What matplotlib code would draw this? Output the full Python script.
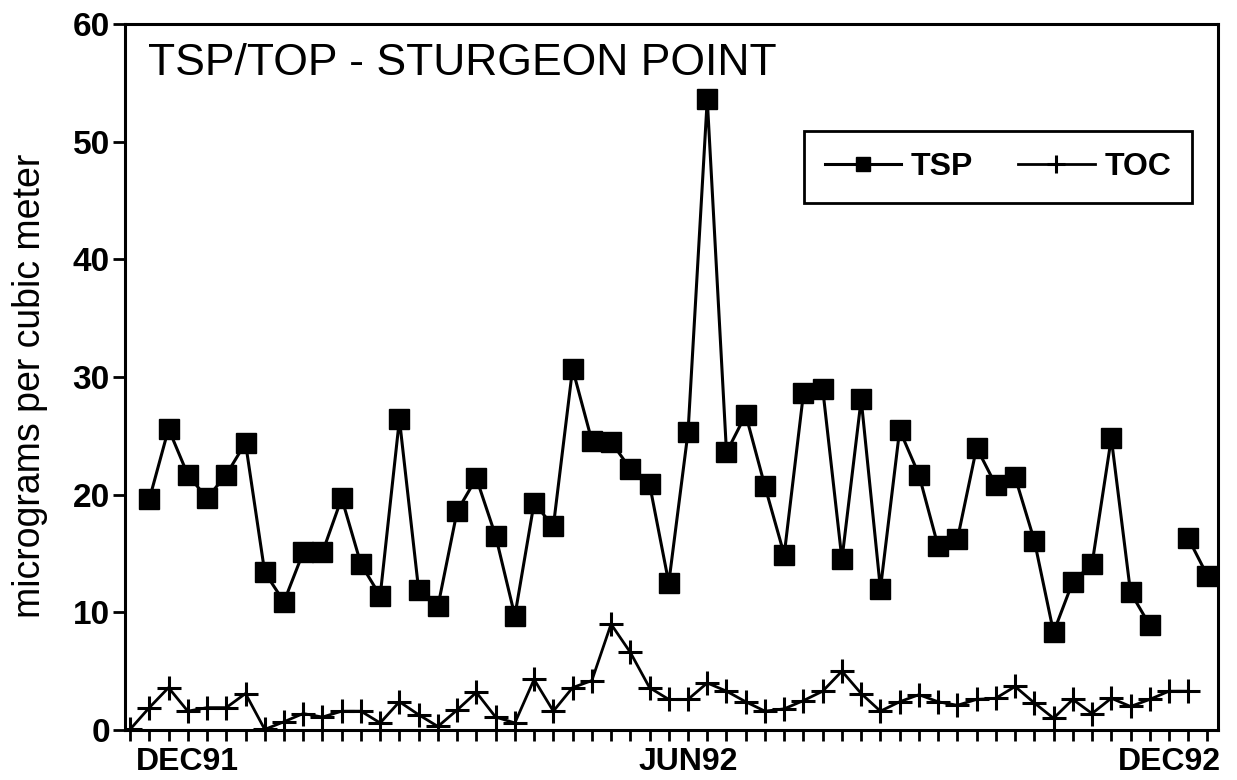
import numpy as np
import matplotlib
matplotlib.use("Agg")
import matplotlib.pyplot as plt

plt.rcParams['font.family'] = ['Liberation Sans', 'DejaVu Sans']

# sample index (one tick per sample)
n_ticks = 57
tick_pos = list(range(n_ticks))

# TSP, micrograms per cubic meter (nan = no sample)
tsp = [np.nan, 19.6, 25.6, 21.7, 19.7, 21.7, 24.4, 13.4, 10.9, 15.1,
       15.1, 19.7, 14.1, 11.4, 26.4, 11.9, 10.5, 18.6, 21.4, 16.5,
       9.7, 19.3, 17.3, 30.7, 24.6, 24.5, 22.2, 20.9, 12.5, 25.3,
       53.6, 23.6, 26.8, 20.7, 14.9, 28.6, 29.0, 14.5, 28.1, 12.0,
       25.5, 21.7, 15.6, 16.2, 24.0, 20.8, 21.5, 16.1, 8.3, 12.6,
       14.1, 24.8, 11.7, 8.9, np.nan, 16.3, 13.1]

# TOC, micrograms per cubic meter
toc = [0.05, 1.9, 3.6, 1.6, 1.9, 1.9, 3.1, 0.05, 0.7, 1.4,
       1.1, 1.6, 1.6, 0.6, 2.4, 1.3, 0.3, 1.7, 3.2, 1.1,
       0.6, 4.3, 1.6, 3.6, 4.2, 9.0, 6.6, 3.6, 2.6, 2.6,
       4.0, 3.3, 2.4, 1.6, 1.8, 2.5, 3.3, 5.0, 3.1, 1.6,
       2.4, 3.0, 2.4, 2.1, 2.6, 2.7, 3.7, 2.3, 1.0, 2.6,
       1.4, 2.7, 2.0, 2.6, 3.3, 3.3]

month_labels = ['DEC91', 'JUN92', 'DEC92']
month_pos = [3, 29, 54]

yticks = [0, 10, 20, 30, 40, 50, 60]

fig = plt.figure(figsize=(12.37, 7.8), dpi=100)
ax = fig.add_axes([0.1011, 0.0641, 0.8836, 0.9051])

ax.plot(range(len(tsp)), tsp, color='black', lw=2.2, marker='s', ms=14,
        label='TSP')
ax.plot(range(len(toc)), toc, color='black', lw=2.0, marker='+', ms=17,
        mew=2.2, label='TOC')

ax.set_xlim(-0.26, 56.55)
ax.set_ylim(0, 60)

xlabels = ['' for _ in tick_pos]
for p, lab in zip(month_pos, month_labels):
    xlabels[p] = lab
ax.set_xticks(tick_pos)
ax.set_xticklabels(xlabels, fontsize=23, fontweight='bold')
ax.set_yticks(yticks)
ax.set_yticklabels([str(v) for v in yticks], fontsize=24, fontweight='bold')
ax.tick_params(axis='x', direction='out', length=8, width=2, pad=4)
ax.tick_params(axis='y', direction='out', length=9, width=2, pad=2)

for s in ax.spines.values():
    s.set_linewidth(2.2)

fig.text(148 / 1237, 1 - 75 / 780, 'TSP/TOP - STURGEON POINT',
         fontsize=32, va='baseline', ha='left')
fig.text(30 / 1237, 1 - 386 / 780, 'micrograms per cubic meter',
         fontsize=27, rotation=90, va='center', ha='center')

leg = ax.legend(loc='upper right', bbox_to_anchor=(0.976, 0.848), ncol=2,
                prop={'weight': 'bold', 'size': 23},
                frameon=True, fancybox=False, markerscale=0.75,
                handlelength=2.4, handletextpad=0.3, columnspacing=1.4,
                borderpad=0.65, borderaxespad=0)
leg.get_frame().set_edgecolor('black')
leg.get_frame().set_linewidth(2)
leg.get_frame().set_alpha(1)

fig.savefig('out.png', dpi=100)
